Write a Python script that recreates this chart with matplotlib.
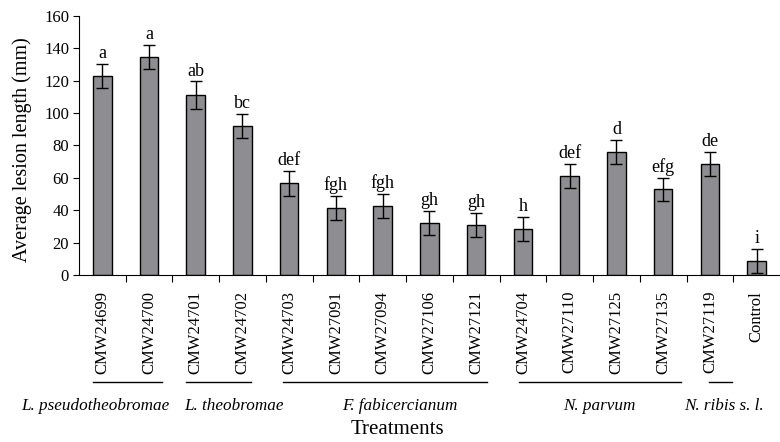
import matplotlib
matplotlib.use("Agg")
import matplotlib.pyplot as plt
import numpy as np

strains = ["CMW24699", "CMW24700", "CMW24701", "CMW24702", "CMW24703",
           "CMW27091", "CMW27094", "CMW27106", "CMW27121", "CMW24704",
           "CMW27110", "CMW27125", "CMW27135", "CMW27119", "Control"]
lesion = [123, 134.5, 111, 92, 56.5, 41.5, 42.5, 32, 31, 28.3,
          61.3, 76.2, 52.8, 68.7, 8.5]
se = [7.5, 7.5, 8.5, 7.5, 7.5, 7.5, 7.5, 7.5, 7.5, 7.5,
      7.3, 7.4, 7.3, 7.3, 7.5]
letters = ["a", "a", "ab", "bc", "def", "fgh", "fgh", "gh", "gh", "h",
           "def", "d", "efg", "de", "i"]

species = ["L. pseudotheobromae", "L. theobromae", "F. fabicercianum",
           "N. parvum", "N. ribis s. l."]
first_bar = [0, 2, 4, 9, 13]
last_bar = [1, 3, 8, 12, 13]

plt.rcParams["font.family"] = ["Liberation Serif", "DejaVu Serif"]

fig = plt.figure(figsize=(7.8, 4.42), dpi=100)
ax = fig.add_axes([0.101, 0.378, 0.899, 0.586])

x = np.arange(len(strains)) + 0.5
ax.bar(x, lesion, width=0.4, color="#8e8e92", edgecolor="black", linewidth=1.0, zorder=2)
ax.errorbar(x, lesion, yerr=se, fmt="none", ecolor="black", elinewidth=1.0,
            capsize=4.3, capthick=1.0, zorder=3)
for xi, v, e, t in zip(x, lesion, se, letters):
    ax.text(xi, v + e + 1.2, t, ha="center", va="bottom", fontsize=13)

ax.set_xlim(0, 15)
ax.set_ylim(0, 160)
ax.set_yticks(np.arange(0, 161, 20))
ax.tick_params(axis="y", labelsize=12, length=4, direction="out", pad=3)
ax.spines["top"].set_visible(False)
ax.spines["right"].set_visible(False)

# ticks between categories, labels at centres
ax.set_xticks(np.arange(1, 15))
ax.set_xticklabels([])
ax.tick_params(axis="x", length=5, direction="out")
for xi, s in zip(x, strains):
    ax.text(xi, -0.062, s, transform=ax.get_xaxis_transform(), rotation=90,
            ha="center", va="top", fontsize=12)

fig.text(0.029, 0.661, "Average lesion length (mm)", rotation=90,
         ha="center", va="center", fontsize=14.5)

# species group lines and names
line_y = -0.412
start_off = [0.3, 0.3, 0.36, 0.42, 0.48]
end_off = [0.78, 0.68, 0.74, 0.88, 0.97]
name_x = [0.36, 3.31, 6.86, 11.13, 13.8]
trans = ax.get_xaxis_transform()
for f, l, so, eo, name, nx in zip(first_bar, last_bar, start_off, end_off, species, name_x):
    ax.plot([f + so, l + eo], [line_y, line_y], color="black", lw=1.0,
            transform=trans, clip_on=False)
    ax.text(nx, -0.505, name, transform=trans, ha="center", va="center",
            fontsize=12.3, style="italic")

fig.text(0.509, 0.028, "Treatments", ha="center", va="center", fontsize=15)

fig.savefig("out.png", dpi=100)
